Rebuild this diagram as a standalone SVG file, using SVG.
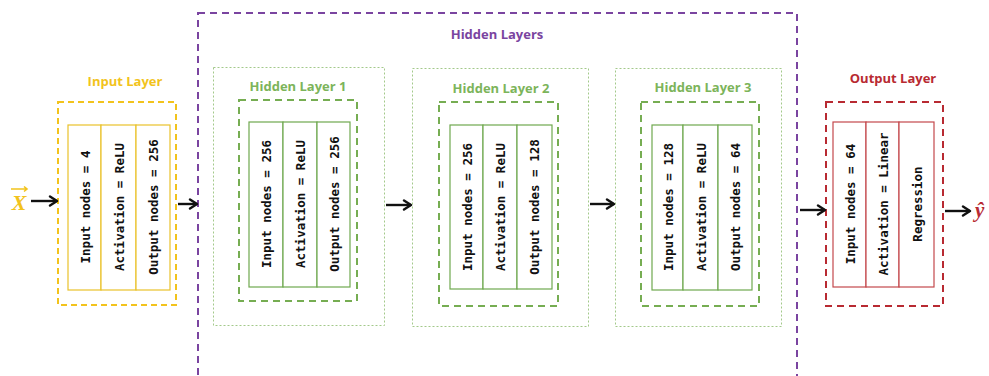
<svg xmlns="http://www.w3.org/2000/svg" width="989" height="376" viewBox="0 0 989 376">
  <defs>
    <marker id="head" viewBox="0 0 12 12" refX="10" refY="6" markerWidth="12" markerHeight="12" markerUnits="userSpaceOnUse" orient="auto">
      <path d="M3,1.5 L10,6 L3,10.5" fill="none" stroke="#111" stroke-width="2.4" stroke-linecap="round" stroke-linejoin="round"/>
    </marker>
  </defs>
  <style>
    .title { font-family: "Open Sans", "Liberation Sans", sans-serif; font-weight: bold; font-size: 13px; text-anchor: middle; }
    .cell { font-family: "DejaVu Sans Mono", "Liberation Mono", monospace; font-weight: bold; font-size: 12.5px; fill: #111; text-anchor: middle; dominant-baseline: central; }
    .wire { fill: none; stroke: #111; stroke-width: 2.4; marker-end: url(#head); }
    .yel-dash { fill: none; stroke: #f2c31c; stroke-width: 2; stroke-dasharray: 6 4; }
    .yel-cell { fill: #fff; stroke: #e9c22a; stroke-width: 1.2; }
    .grn-dot { fill: none; stroke: #a3c98a; stroke-width: 1; stroke-dasharray: 2 2; }
    .grn-dash { fill: none; stroke: #76ad52; stroke-width: 2; stroke-dasharray: 7 5; }
    .grn-cell { fill: #fff; stroke: #6fa84f; stroke-width: 1.2; }
    .pur-dash { fill: none; stroke: #7a44a0; stroke-width: 2; stroke-dasharray: 7 5; }
    .red-dash { fill: none; stroke: #b82a32; stroke-width: 2; stroke-dasharray: 7 5; }
    .red-cell { fill: #fff; stroke: #c4484c; stroke-width: 1.2; }
  </style>
  <rect width="989" height="376" fill="#fff"/>

  <!-- hidden layers container (runs off the bottom edge) -->
  <g id="hidden-layers">
    <rect class="pur-dash" x="198" y="13" width="599" height="380"/>
    <text class="title" x="497" y="39" fill="#7a44a0">Hidden Layers</text>
  </g>

  <!-- input layer -->
  <g id="input-layer">
    <text class="title" x="125" y="86" fill="#f2c31c">Input Layer</text>
    <rect class="yel-dash" x="58" y="102" width="118" height="203"/>
    <rect class="yel-cell" x="68" y="125" width="33" height="165"/>
    <rect class="yel-cell" x="101" y="125" width="35" height="165"/>
    <rect class="yel-cell" x="136" y="125" width="34" height="165"/>
    <text class="cell" transform="translate(85,207) rotate(-90)">Input nodes = 4</text>
    <text class="cell" transform="translate(119,207) rotate(-90)">Activation = ReLU</text>
    <text class="cell" transform="translate(153,207) rotate(-90)">Output nodes = 256</text>
  </g>

  <!-- hidden layer 1 -->
  <g id="hidden-layer-1">
    <rect class="grn-dot" x="213.5" y="67.5" width="171" height="258"/>
    <text class="title" x="298" y="91" fill="#7cb45a">Hidden Layer 1</text>
    <rect class="grn-dash" x="239" y="100" width="118" height="201"/>
    <rect class="grn-cell" x="249" y="122" width="34" height="165"/>
    <rect class="grn-cell" x="283" y="122" width="34" height="165"/>
    <rect class="grn-cell" x="317" y="122" width="33" height="165"/>
    <text class="cell" transform="translate(266,204) rotate(-90)">Input nodes = 256</text>
    <text class="cell" transform="translate(300,204) rotate(-90)">Activation = ReLU</text>
    <text class="cell" transform="translate(334,204) rotate(-90)">Output nodes = 256</text>
  </g>

  <!-- hidden layer 2 -->
  <g id="hidden-layer-2">
    <rect class="grn-dot" x="412.5" y="68.5" width="176" height="258"/>
    <text class="title" x="501" y="93" fill="#7cb45a">Hidden Layer 2</text>
    <rect class="grn-dash" x="439" y="102" width="119" height="204"/>
    <rect class="grn-cell" x="450" y="125" width="33" height="164"/>
    <rect class="grn-cell" x="483" y="125" width="34" height="164"/>
    <rect class="grn-cell" x="517" y="125" width="35" height="164"/>
    <text class="cell" transform="translate(467,207) rotate(-90)">Input nodes = 256</text>
    <text class="cell" transform="translate(500,207) rotate(-90)">Activation = ReLU</text>
    <text class="cell" transform="translate(534,207) rotate(-90)">Output nodes = 128</text>
  </g>

  <!-- hidden layer 3 -->
  <g id="hidden-layer-3">
    <rect class="grn-dot" x="615.5" y="68.5" width="166" height="258"/>
    <text class="title" x="703" y="92" fill="#7cb45a">Hidden Layer 3</text>
    <rect class="grn-dash" x="641" y="102" width="118" height="204"/>
    <rect class="grn-cell" x="652" y="125" width="31" height="165"/>
    <rect class="grn-cell" x="683" y="125" width="35" height="165"/>
    <rect class="grn-cell" x="718" y="125" width="34" height="165"/>
    <text class="cell" transform="translate(668,207) rotate(-90)">Input nodes = 128</text>
    <text class="cell" transform="translate(701,207) rotate(-90)">Activation = ReLU</text>
    <text class="cell" transform="translate(735,207) rotate(-90)">Output nodes = 64</text>
  </g>

  <!-- output layer -->
  <g id="output-layer">
    <text class="title" x="893" y="83" fill="#b82a32">Output Layer</text>
    <rect class="red-dash" x="826" y="102" width="117" height="204"/>
    <rect class="red-cell" x="833" y="122" width="33" height="165"/>
    <rect class="red-cell" x="866" y="122" width="33" height="165"/>
    <rect class="red-cell" x="899" y="122" width="35" height="165"/>
    <text class="cell" transform="translate(850,204) rotate(-90)">Input nodes = 64</text>
    <text class="cell" transform="translate(883,204) rotate(-90)">Activation = Linear</text>
    <text class="cell" transform="translate(917,204) rotate(-90)">Regression</text>
  </g>

  <!-- input vector x -->
  <g id="x-input">
    <text x="19" y="210" font-family="Liberation Serif, serif" font-style="italic" font-weight="bold" font-size="22" fill="#f2c31c" text-anchor="middle">X</text>
    <path d="M11,189 L27,189 M24,186.5 L27,189 L24,191.5" fill="none" stroke="#f2c31c" stroke-width="1.6"/>
  </g>

  <!-- prediction y-hat -->
  <g id="y-output">
    <text x="975" y="217" font-family="Liberation Serif, serif" font-style="italic" font-weight="bold" font-size="21" fill="#b82a32">ŷ</text>
  </g>

  <!-- connectors -->
  <g id="connectors">
    <line class="wire" x1="31" y1="201" x2="57" y2="201"/>
    <line class="wire" x1="178" y1="204" x2="197" y2="204"/>
    <line class="wire" x1="386" y1="205" x2="411" y2="205"/>
    <line class="wire" x1="590" y1="204" x2="614" y2="204"/>
    <line class="wire" x1="800" y1="210" x2="825" y2="210"/>
    <line class="wire" x1="945" y1="211" x2="970" y2="211"/>
  </g>
</svg>
